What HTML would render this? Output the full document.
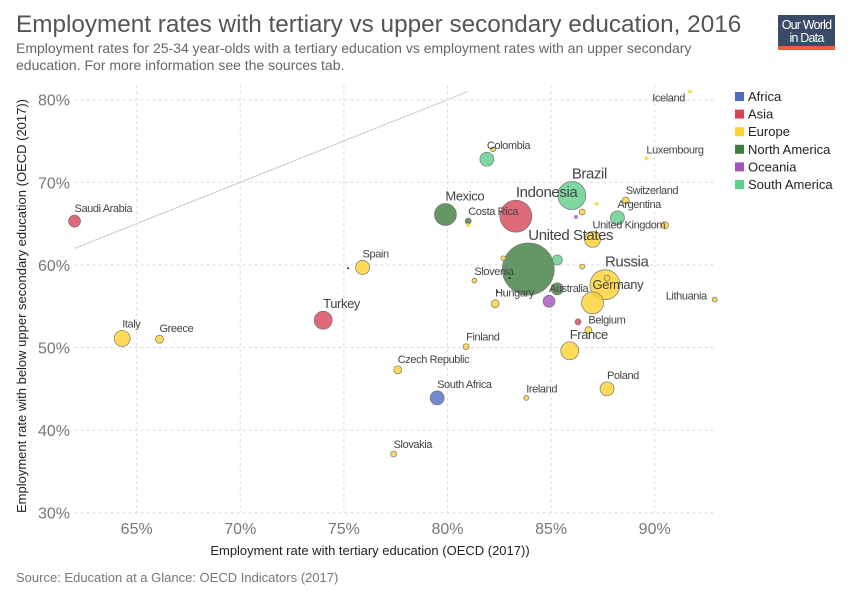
<!DOCTYPE html>
<html><head><meta charset="utf-8"><style>
body{margin:0;background:#fff;}
svg text{font-family:"Liberation Sans",sans-serif;}
.lbl{font-family:"Liberation Sans Narrow","Liberation Sans",sans-serif;fill:#444;letter-spacing:-0.4px;}
</style></head><body>
<svg id="chart" width="850" height="600" xmlns="http://www.w3.org/2000/svg">
<text x="16" y="32" font-size="24.3" fill="#555">Employment rates with tertiary vs upper secondary education, 2016</text>
<text x="16" y="53" font-size="14" fill="#666">Employment rates for 25-34 year-olds with a tertiary education vs employment rates with an upper secondary</text>
<text x="16" y="70" font-size="14" fill="#666">education. For more information see the sources tab.</text>
<g>
<rect x="778" y="15" width="57" height="35" fill="#3b4a66"/>
<rect x="778" y="46" width="57" height="4" fill="#e8603c"/>
<text x="806.5" y="29" font-size="12.5" fill="#fff" text-anchor="middle" letter-spacing="-0.8">Our World</text>
<text x="806.5" y="42" font-size="12.5" fill="#fff" text-anchor="middle" letter-spacing="-0.8">in Data</text>
</g>
<g id="grid"></g>
<g id="axes"></g>
<g id="points"></g>
<g id="legend"></g>
<text x="370" y="555" font-size="13" fill="#222" text-anchor="middle">Employment rate with tertiary education (OECD (2017))</text>
<text transform="translate(26,306) rotate(-90)" font-size="13" fill="#222" text-anchor="middle">Employment rate with below upper secondary education (OECD (2017))</text>
<text x="16" y="582" font-size="13" fill="#777">Source: Education at a Glance: OECD Indicators (2017)</text>
</svg>
<script>
const xTicks=[65,70,75,80,85,90];
const yTicks=[30,40,50,60,70,80];
const regions=["Africa","Asia","Europe","North America","Oceania","South America"];
const regionColors=["#4d6cc4","#d64356","#fdd22e","#3e7d3e","#a652ba","#5ccf8a"];
const names=["Saudi Arabia","Italy","Greece","Turkey","Spain","","Czech Republic","South Africa","Slovakia","Mexico","Costa Rica","","Colombia","","Indonesia","Brazil","","","","Switzerland","Argentina","","United Kingdom","United States","","","","Slovenia","","","Russia","","","Australia","Hungary","Germany","Lithuania","","Belgium","France","Finland","Poland","Ireland","Iceland","Luxembourg"];
const tertiary=[62.0,64.3,66.1,74.0,75.9,75.2,77.6,79.5,77.4,79.9,81.0,81.0,81.9,82.2,83.3,86.0,86.5,86.2,87.2,88.6,88.2,90.5,87.0,83.9,85.3,82.7,86.5,81.3,83.0,82.4,87.6,87.7,85.3,84.9,82.3,87.0,92.9,86.3,86.8,85.9,80.9,87.7,83.8,91.7,89.6];
const secondary=[65.3,51.1,51.0,53.3,59.7,59.6,47.3,43.9,37.1,66.1,65.3,64.8,72.8,74.0,65.9,68.4,66.4,65.8,67.4,67.8,65.7,64.8,63.1,59.5,60.6,60.8,59.8,58.1,58.4,56.8,57.6,58.4,57.1,55.6,55.3,55.4,55.8,53.1,52.1,49.6,50.1,45.0,43.9,81.0,72.9];
const region=[1,2,2,1,2,-1,2,0,2,3,3,2,5,2,1,5,2,4,2,2,5,2,2,3,5,2,2,2,-1,-1,2,2,3,4,2,2,2,1,2,2,2,2,2,2,2];
const population=[6,8,4,9,7,1,4,7,3,11,3,2,7,2.5,16,14,3,2,2,3.5,7,3.5,8,26,5,2.5,2.5,2.5,1,1,15,3,6,6,4,11,2.5,3,3.5,9,3,7,2.5,2,2];

const X0=62,X1=92.9,Y0=30,Y1=81.5;
const xs=v=>136.7+(v-65)*20.72;
const ys=v=>512.7-(v-30)*8.26;
const NS="http://www.w3.org/2000/svg";
function mk(tag,attrs,parent){const e=document.createElementNS(NS,tag);for(const k in attrs)e.setAttribute(k,attrs[k]);parent.appendChild(e);return e;}
const grid=document.getElementById('grid'),axes=document.getElementById('axes'),pts=document.getElementById('points'),leg=document.getElementById('legend');
xTicks.forEach(t=>{
 const l=mk('line',{x1:xs(t),x2:xs(t),y1:ys(Y1)-2,y2:ys(Y0),stroke:'#ddd','stroke-dasharray':'3,3'},grid);
 
 
 const tx=mk('text',{x:xs(t),y:534,'font-size':16,fill:'#777','text-anchor':'middle'},axes);tx.textContent=t+'%';
 
 
});
yTicks.forEach(t=>{
 const l=mk('line',{x1:xs(X0),x2:xs(X1),y1:ys(t),y2:ys(t),stroke:'#ddd','stroke-dasharray':'3,3'},grid);
 
 
 const tx=mk('text',{x:70,y:ys(t)+6,'font-size':16,fill:'#777','text-anchor':'end'},axes);tx.textContent=t+'%';
 
 
});
const diag=mk('line',{x1:xs(X0),y1:ys(X0),x2:xs(81),y2:ys(81),stroke:'#ccc','stroke-width':1},grid);


const order=tertiary.map((_,i)=>i).sort((a,b)=>population[b]-population[a]);
order.forEach(i=>{
 const cx=xs(tertiary[i]),cy=ys(secondary[i]),r=population[i];
 const col=region[i]<0?'#222':regionColors[region[i]];
 const c=mk('circle',{cx:cx,cy:cy,r:r,fill:col,'fill-opacity':region[i]<0?1:0.8,stroke:region[i]<0?'none':(r>2.2?'#777':'none'),'stroke-width':0.7},pts);
 
 
});
tertiary.forEach((v,i)=>{
 if(!names[i])return;
 const cx=xs(v),cy=ys(secondary[i]),r=population[i];
 let x=cx,y=cy-r-3,anchor='start';
 if(names[i]==='Iceland'){x=cx-5;y=cy+10;anchor='end';}
 if(names[i]==='Lithuania'){x=cx-8;y=cy;anchor='end';}
 const fs=r>=14?15:(r>=9?13:11);
 const t=mk('text',{x:x,y:y,'font-size':fs,'text-anchor':anchor,class:'lbl'},pts);
 t.textContent=names[i];
 
 
});
regions.forEach((r,i)=>{
 const y=97+i*17.6;
 const g=mk('g',{},leg);
 
 
 mk('rect',{x:735,y:y-5,width:9,height:9,fill:regionColors[i]},g);
 const t=mk('text',{x:748,y:y+4,'font-size':13,fill:'#222'},g);t.textContent=r;
});
</script>
</body></html>
